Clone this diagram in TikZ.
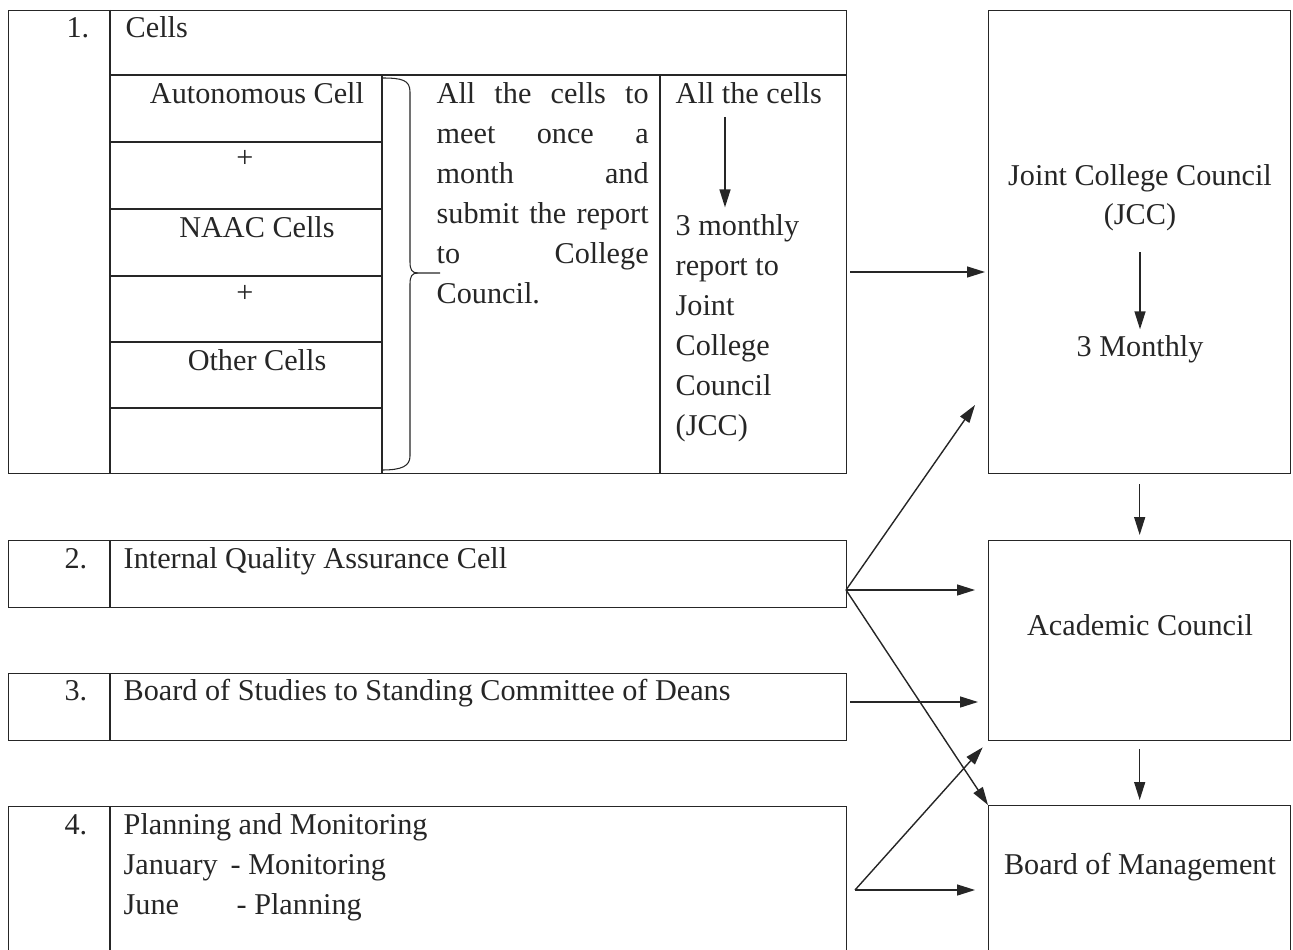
\documentclass[tikz,border=0pt]{standalone}
\usepackage{fontspec}
\setmainfont{Liberation Serif}
\usetikzlibrary{arrows.meta}

\begin{document}
\begin{tikzpicture}[x=0.02cm, y=-0.02cm, thick, color=black!85,
        font=\fontsize{17.2}{22.76}\selectfont,
        box/.style = {draw, anchor=north west, inner sep=0pt},
        txt/.style = {anchor=base west, inner sep=0pt},
        num/.style = {anchor=base east, inner sep=0pt},
        mid/.style = {anchor=base, inner sep=0pt},
        arr/.style = {-{Triangle[length=0.36cm, width=0.22cm]}}]

        \useasboundingbox (0,0) rectangle (1293,949);
        \clip (0,0) rectangle (1293,949);

        % Cells box
        \node[box, minimum width=16.76cm, minimum height=9.26cm] (cells) at (8,10) {};
        \draw (110,10) -- (110,473);
        \draw (110,75) -- (846,75);
        \draw (382,75) -- (382,473);
        \draw (660,75) -- (660,473);
        \foreach \y in {142,209,276,342,408}
            \draw[semithick] (110,\y) -- (382,\y);
        \node[num] (n1) at (90,38) {1.};
        \node[txt] (cellshead) at (125,38) {Cells};

        % List of cells
        \node[mid] (autonomous) at (257,104) {Autonomous Cell};
        \node[mid] (plusa) at (245,168) {+};
        \node[mid] (naac) at (257,237) {NAAC Cells};
        \node[mid] (plusb) at (245,302) {+};
        \node[mid] (other) at (257,370) {Other Cells};

        % Brace
        \draw[semithick] (382,78) .. controls (402,78) and (410,80) .. (410,92) -- (410,262)
            .. controls (410,270) and (412,273) .. (418,273) -- (440,273);
        \draw[semithick] (418,273) .. controls (412,273) and (410,276) .. (410,284) -- (410,456)
            .. controls (410,466) and (402,470) .. (382,470);

        % Meeting text
        \node[txt, text width=4.24cm, align=left] (meet) at (436,104)
            {All\hfill the\hfill cells\hfill to\\
             meet\hfill once\hfill a\\
             month\hfill and\\
             submit\hfill the\hfill report\\
             to\hfill College\\
             Council.};

        % Report text (anchored on its last line)
        \node[txt] (allcells) at (675,104) {All the cells};
        \node[txt, align=left] (monthly) at (675,435)
            {3 monthly\\report to\\Joint\\College\\Council\\(JCC)};
        \draw[arr] ([xshift=1cm, yshift=-0.24cm]allcells.south west)
            -- ([xshift=1cm, yshift=0.12cm]monthly.north west);

        % Joint College Council
        \node[box, minimum width=6.04cm, minimum height=9.26cm] (jcc) at (988,10) {};
        \node[mid, align=center] (jcctxt) at (1140,225) {Joint College Council\\(JCC)};
        \node[mid] (jccmon) at (1140,356) {3 Monthly};
        \draw[arr] ([yshift=-0.4cm]jcctxt.south) -- ([yshift=0.1cm]jccmon.north);

        % Academic Council
        \node[box, minimum width=6.04cm, minimum height=4cm] (ac) at (988,540) {};
        \node[mid] (actxt) at (1140,635) {Academic Council};

        % Board of Management
        \node[box, minimum width=6.04cm, minimum height=3cm] (bom) at (988,805) {};
        \node[mid] (bomtxt) at (1140,874) {Board of Management};

        % IQAC
        \node[box, minimum width=16.76cm, minimum height=1.34cm] (iqac) at (8,540) {};
        \draw (110,540) -- (110,607);
        \node[num] (n2) at (88,568) {2.};
        \node[txt] (iqactxt) at (123,568) {Internal Quality Assurance Cell};

        % Board of Studies
        \node[box, minimum width=16.76cm, minimum height=1.34cm] (bos) at (8,673) {};
        \draw (110,673) -- (110,740);
        \node[num] (n3) at (88,700) {3.};
        \node[txt] (bostxt) at (123,700) {Board of Studies to Standing Committee of Deans};

        % Planning and Monitoring
        \node[box, minimum width=16.76cm, minimum height=3cm] (plan) at (8,806) {};
        \draw (110,806) -- (110,960);
        \node[num] (n4) at (88,834) {4.};
        \node[txt, align=left] (plantxt) at (123,914)
            {Planning and Monitoring\\
             \makebox[2.14cm][l]{January}- Monitoring\\
             \makebox[2.26cm][l]{June}- Planning};

        % Connectors
        \coordinate (f1) at (850,272);
        \coordinate (f2) at (846,590);
        \coordinate (f3) at (850,702);
        \coordinate (f4) at (855,890);
        \coordinate (jccin) at (975,405);
        \draw[arr, shorten >=0.06cm] (f1) -- (f1 -| jcc.west);
        \draw[arr] (f2) -- (jccin);
        \draw[arr, shorten >=0.26cm] (f2) -- (f2 -| ac.west);
        \draw[arr] (f2) -- (bom.north west);
        \draw[arr, shorten >=0.2cm] (f3) -- (f3 -| ac.west);
        \draw[arr, shorten >=0.16cm] (f4) -- (ac.south west);
        \draw[arr, shorten >=0.26cm] (f4) -- (f4 -| bom.west);
        \draw[arr, shorten <=0.2cm, shorten >=0.1cm] (jcc.south) -- (ac.north);
        \draw[arr, shorten <=0.16cm, shorten >=0.1cm] (ac.south) -- (bom.north);

    \end{tikzpicture}
\end{document}
